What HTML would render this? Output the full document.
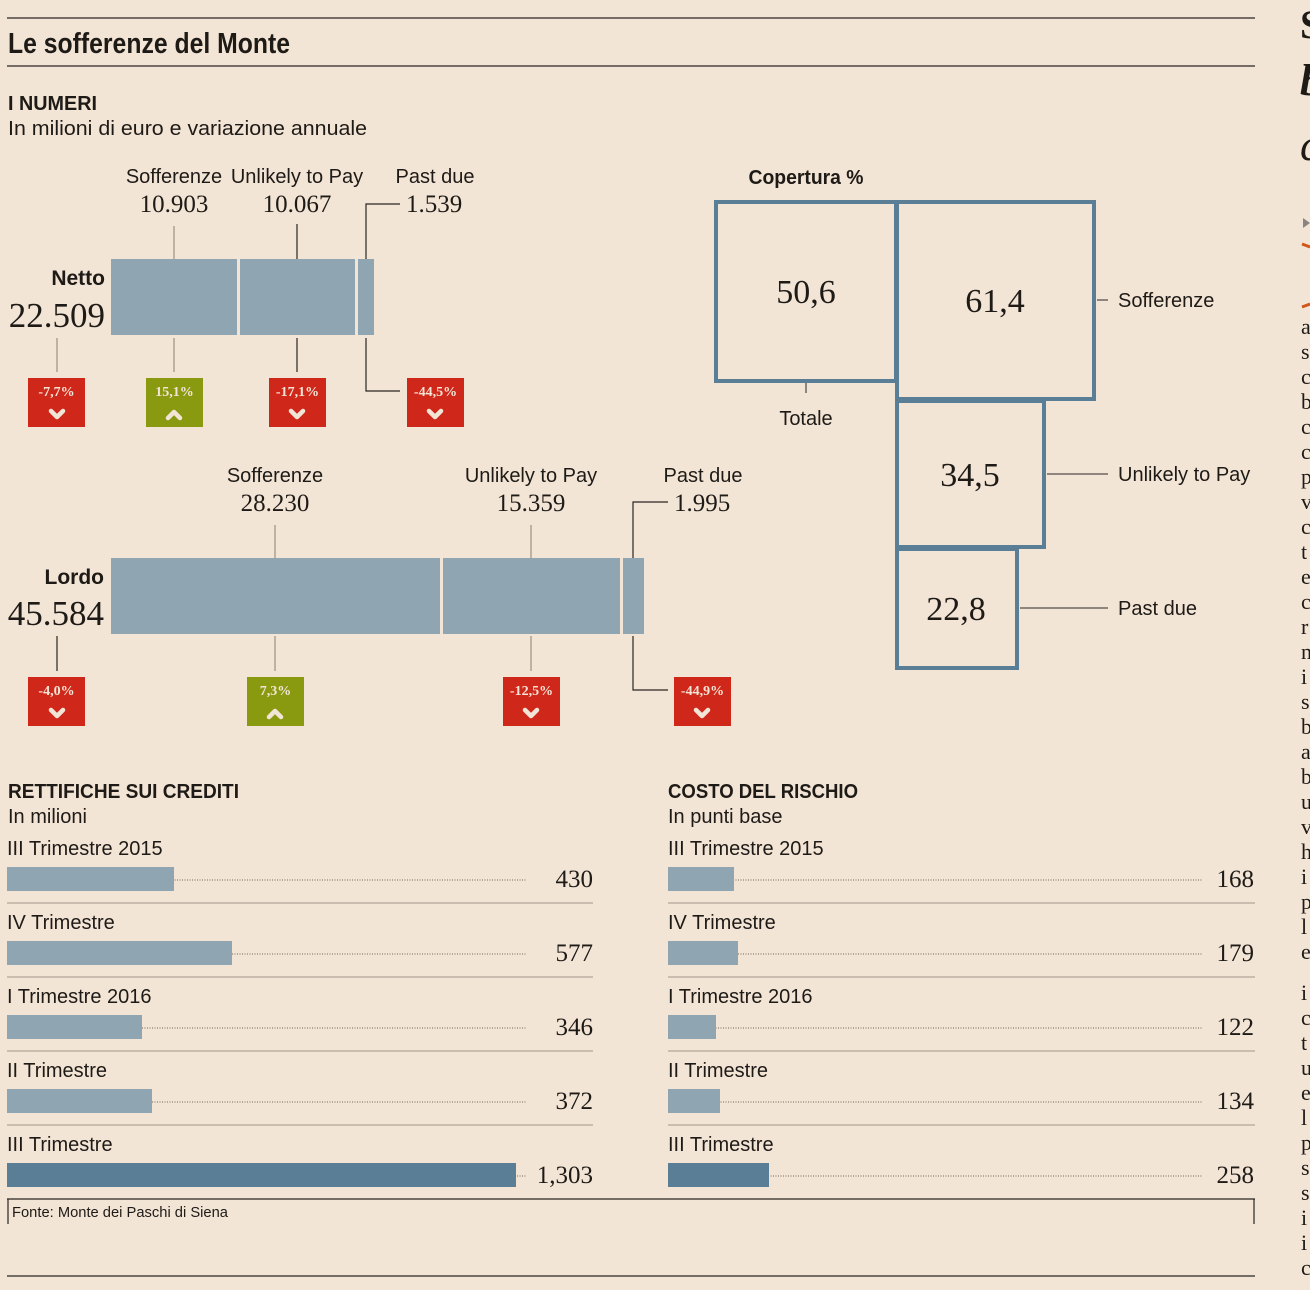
<!DOCTYPE html>
<html><head><meta charset="utf-8"><style>
html,body{margin:0;padding:0;background:#f3e5d6;}
svg{display:block}
.s{font-family:"Liberation Sans Narrow","Liberation Sans",sans-serif;fill:#1e1a16}
.r{font-family:"Liberation Serif",serif;fill:#1e1a16}
.b{font-weight:bold}
.badge{font-family:"Liberation Serif",serif;font-weight:bold;font-size:14px;fill:#f3e5d6}
</style></head><body>
<svg width="1310" height="1290" viewBox="0 0 1310 1290" xmlns="http://www.w3.org/2000/svg">
<rect width="1310" height="1290" fill="#f3e5d6"/>
<g stroke="#2a2521" stroke-width="1.3">
<line x1="7" y1="18" x2="1255" y2="18"/><line x1="7" y1="66" x2="1255" y2="66"/>
<line x1="7" y1="1276" x2="1255" y2="1276"/>
</g>
<text x="8" y="53" class="s b" font-size="29" textLength="282" lengthAdjust="spacingAndGlyphs">Le sofferenze del Monte</text>
<text x="8" y="110" class="s b" font-size="20" textLength="89" lengthAdjust="spacingAndGlyphs">I NUMERI</text>
<text x="8" y="135" class="s" font-size="20" textLength="359" lengthAdjust="spacingAndGlyphs">In milioni di euro e variazione annuale</text>

<!-- Netto -->
<g fill="#8fa6b2"><rect x="111" y="259" width="126" height="76"/><rect x="240" y="259" width="115" height="76"/><rect x="358" y="259" width="16" height="76"/></g>
<text x="174" y="183" class="s" font-size="20" text-anchor="middle">Sofferenze</text>
<text x="174" y="212" class="r" font-size="25" text-anchor="middle">10.903</text>
<text x="297" y="183" class="s" font-size="20" text-anchor="middle">Unlikely to Pay</text>
<text x="297" y="212" class="r" font-size="25" text-anchor="middle">10.067</text>
<text x="435" y="183" class="s" font-size="20" text-anchor="middle">Past due</text>
<text x="406" y="212" class="r" font-size="25">1.539</text>
<text x="105" y="285" class="s b" font-size="21" text-anchor="end">Netto</text>
<text x="105" y="327" class="r" font-size="35" text-anchor="end">22.509</text>
<g stroke="#8a7e72" stroke-width="1" fill="none">
<line x1="174" y1="226" x2="174" y2="259"/><line x1="174" y1="338" x2="174" y2="372"/>
<line x1="57" y1="338" x2="57" y2="372"/>
</g>
<g stroke="#2a2521" stroke-width="1.2" fill="none">
<line x1="297" y1="224" x2="297" y2="259"/><line x1="297" y1="338" x2="297" y2="372"/>
<polyline points="400,204 366,204 366,259"/><polyline points="366,338 366,391 400,391"/>
</g>
<!-- Lordo -->
<g fill="#8fa6b2"><rect x="111" y="558" width="329" height="76"/><rect x="443" y="558" width="177" height="76"/><rect x="623" y="558" width="21" height="76"/></g>
<text x="275" y="482" class="s" font-size="20" text-anchor="middle">Sofferenze</text>
<text x="275" y="511" class="r" font-size="25" text-anchor="middle">28.230</text>
<text x="531" y="482" class="s" font-size="20" text-anchor="middle">Unlikely to Pay</text>
<text x="531" y="511" class="r" font-size="25" text-anchor="middle">15.359</text>
<text x="703" y="482" class="s" font-size="20" text-anchor="middle">Past due</text>
<text x="674" y="511" class="r" font-size="25">1.995</text>
<text x="104" y="584" class="s b" font-size="21" text-anchor="end">Lordo</text>
<text x="104" y="625" class="r" font-size="35" text-anchor="end">45.584</text>
<g stroke="#8a7e72" stroke-width="1" fill="none">
<line x1="275" y1="525" x2="275" y2="558"/><line x1="275" y1="636" x2="275" y2="671"/>
<line x1="531" y1="525" x2="531" y2="558"/><line x1="531" y1="636" x2="531" y2="671"/>
</g>
<g stroke="#2a2521" stroke-width="1.2" fill="none">
<line x1="57" y1="636" x2="57" y2="671"/>
<polyline points="668,502 633,502 633,558"/><polyline points="633,636 633,690 668,690"/>
</g>

<!-- badges -->
<g>
<rect x="28" y="378" width="57" height="49" fill="#d0271b"/><text x="56.5" y="396" class="badge" text-anchor="middle">-7,7%</text>
<rect x="146" y="378" width="57" height="49" fill="#8a9a10"/><text x="174.5" y="396" class="badge" text-anchor="middle">15,1%</text>
<rect x="269" y="378" width="57" height="49" fill="#d0271b"/><text x="297.5" y="396" class="badge" text-anchor="middle">-17,1%</text>
<rect x="407" y="378" width="57" height="49" fill="#d0271b"/><text x="435.5" y="396" class="badge" text-anchor="middle">-44,5%</text>
<rect x="28" y="677" width="57" height="49" fill="#d0271b"/><text x="56.5" y="695" class="badge" text-anchor="middle">-4,0%</text>
<rect x="247" y="677" width="57" height="49" fill="#8a9a10"/><text x="275.5" y="695" class="badge" text-anchor="middle">7,3%</text>
<rect x="503" y="677" width="57" height="49" fill="#d0271b"/><text x="531.5" y="695" class="badge" text-anchor="middle">-12,5%</text>
<rect x="674" y="677" width="57" height="49" fill="#d0271b"/><text x="702.5" y="695" class="badge" text-anchor="middle">-44,9%</text>
</g>
<g stroke="#f3e5d6" stroke-width="4.5" fill="none" stroke-linecap="round" stroke-linejoin="round">
<polyline points="51,411 57,417 63,411"/><polyline points="291,411 297,417 303,411"/><polyline points="429,411 435,417 441,411"/>
<polyline points="168,418 174,412 180,418"/>
<polyline points="51,710 57,716 63,710"/><polyline points="525,710 531,716 537,710"/><polyline points="696,710 702,716 708,710"/>
<polyline points="269,717 275,711 281,717"/>
</g>

<!-- Copertura -->
<text x="806" y="184" class="s b" font-size="20" text-anchor="middle" textLength="115" lengthAdjust="spacingAndGlyphs">Copertura %</text>
<g stroke="#5a7e96" stroke-width="4" fill="none">
<rect x="716" y="202" width="180" height="179"/>
<rect x="897" y="202" width="197" height="197"/>
<rect x="897" y="401" width="147" height="146"/>
<rect x="897" y="549" width="120" height="119"/>
</g>
<text x="806" y="303" class="r" font-size="34" text-anchor="middle">50,6</text>
<text x="995" y="312" class="r" font-size="34" text-anchor="middle">61,4</text>
<text x="970" y="486" class="r" font-size="34" text-anchor="middle">34,5</text>
<text x="956" y="620" class="r" font-size="34" text-anchor="middle">22,8</text>
<g stroke="#2a2521" stroke-width="1">
<line x1="806" y1="383" x2="806" y2="393"/>
<line x1="1097" y1="300" x2="1108" y2="300"/>
<line x1="1047" y1="474" x2="1108" y2="474"/>
<line x1="1020" y1="608" x2="1108" y2="608"/>
</g>
<text x="806" y="425" class="s" font-size="20" text-anchor="middle">Totale</text>
<text x="1118" y="307" class="s" font-size="20">Sofferenze</text>
<text x="1118" y="481" class="s" font-size="20">Unlikely to Pay</text>
<text x="1118" y="615" class="s" font-size="20">Past due</text>

<!-- Rettifiche -->
<text x="8" y="798" class="s b" font-size="20" textLength="231" lengthAdjust="spacingAndGlyphs">RETTIFICHE SUI CREDITI</text>
<text x="8" y="823" class="s" font-size="20">In milioni</text>
<text x="668" y="798" class="s b" font-size="20" textLength="190" lengthAdjust="spacingAndGlyphs">COSTO DEL RISCHIO</text>
<text x="668" y="823" class="s" font-size="20">In punti base</text>

<g class="s" font-size="20">
<text x="7" y="855">III Trimestre 2015</text><text x="7" y="929">IV Trimestre</text><text x="7" y="1003">I Trimestre 2016</text><text x="7" y="1077">II Trimestre</text><text x="7" y="1151">III Trimestre</text>
<text x="668" y="855">III Trimestre 2015</text><text x="668" y="929">IV Trimestre</text><text x="668" y="1003">I Trimestre 2016</text><text x="668" y="1077">II Trimestre</text><text x="668" y="1151">III Trimestre</text>
</g>
<g stroke="#6a625a" stroke-width="1" stroke-dasharray="1,1.5">
<line x1="7" y1="880" x2="526" y2="880"/><line x1="7" y1="954" x2="526" y2="954"/><line x1="7" y1="1028" x2="526" y2="1028"/><line x1="7" y1="1102" x2="526" y2="1102"/><line x1="7" y1="1176" x2="526" y2="1176"/>
<line x1="668" y1="880" x2="1203" y2="880"/><line x1="668" y1="954" x2="1203" y2="954"/><line x1="668" y1="1028" x2="1203" y2="1028"/><line x1="668" y1="1102" x2="1203" y2="1102"/><line x1="668" y1="1176" x2="1203" y2="1176"/>
</g>
<g fill="#8fa6b2">
<rect x="7" y="867" width="167" height="24"/><rect x="7" y="941" width="225" height="24"/><rect x="7" y="1015" width="135" height="24"/><rect x="7" y="1089" width="145" height="24"/>
<rect x="668" y="867" width="66" height="24"/><rect x="668" y="941" width="70" height="24"/><rect x="668" y="1015" width="48" height="24"/><rect x="668" y="1089" width="52" height="24"/>
</g>
<g fill="#5a7e96"><rect x="7" y="1163" width="509" height="24"/><rect x="668" y="1163" width="101" height="24"/></g>
<g class="r" font-size="25" text-anchor="end">
<text x="593" y="887">430</text><text x="593" y="961">577</text><text x="593" y="1035">346</text><text x="593" y="1109">372</text><text x="593" y="1183">1,303</text>
<text x="1254" y="887">168</text><text x="1254" y="961">179</text><text x="1254" y="1035">122</text><text x="1254" y="1109">134</text><text x="1254" y="1183">258</text>
</g>
<g stroke="#a09486" stroke-width="1">
<line x1="7" y1="903" x2="593" y2="903"/><line x1="7" y1="977" x2="593" y2="977"/><line x1="7" y1="1051" x2="593" y2="1051"/><line x1="7" y1="1125" x2="593" y2="1125"/>
<line x1="668" y1="903" x2="1255" y2="903"/><line x1="668" y1="977" x2="1255" y2="977"/><line x1="668" y1="1051" x2="1255" y2="1051"/><line x1="668" y1="1125" x2="1255" y2="1125"/>
</g>
<g stroke="#2a2521" stroke-width="1.2" fill="none">
<line x1="7" y1="1199" x2="1255" y2="1199"/><line x1="8" y1="1199" x2="8" y2="1224"/><line x1="1254" y1="1199" x2="1254" y2="1224"/>
</g>
<text x="12" y="1217" class="s" font-size="15" fill="#3a342e" textLength="216" lengthAdjust="spacingAndGlyphs">Fonte: Monte dei Paschi di Siena</text>

<!-- right clipped column -->
<g class="r" font-size="22">
<text x="1300" y="38" font-size="40" font-weight="bold">S</text>
<text x="1300" y="95" font-size="44" font-style="italic" font-weight="bold">b</text>
<text x="1300" y="160" font-size="44" font-style="italic">c</text>
<text x="1301" y="334">a</text><text x="1301" y="359">s</text><text x="1301" y="384">c</text><text x="1301" y="409">b</text><text x="1301" y="434">c</text><text x="1301" y="459">c</text><text x="1301" y="484">p</text><text x="1301" y="509">v</text><text x="1301" y="534">c</text><text x="1301" y="559">t</text><text x="1301" y="584">e</text><text x="1301" y="609">c</text><text x="1301" y="634">r</text><text x="1301" y="659">n</text><text x="1301" y="684">i</text><text x="1301" y="709">s</text><text x="1301" y="734">b</text><text x="1301" y="759">a</text><text x="1301" y="784">b</text><text x="1301" y="809">u</text><text x="1301" y="834">v</text><text x="1301" y="859">h</text><text x="1301" y="884">i</text><text x="1301" y="909">p</text><text x="1301" y="934">l</text><text x="1301" y="959">e</text>
<text x="1301" y="1000">i</text><text x="1301" y="1025">c</text><text x="1301" y="1050">t</text><text x="1301" y="1075">u</text><text x="1301" y="1100">e</text><text x="1301" y="1125">l</text><text x="1301" y="1150">p</text><text x="1301" y="1175">s</text><text x="1301" y="1200">s</text><text x="1301" y="1225">i</text><text x="1301" y="1250">i</text><text x="1301" y="1275">c</text>
</g>
<polygon points="1303,218 1310,223 1303,228" fill="#8a8580"/>
<path d="M1302,244 L1310,247" stroke="#d2561a" stroke-width="3"/>
<path d="M1302,307 L1310,304" stroke="#d2561a" stroke-width="3"/>
</svg>
</body></html>
